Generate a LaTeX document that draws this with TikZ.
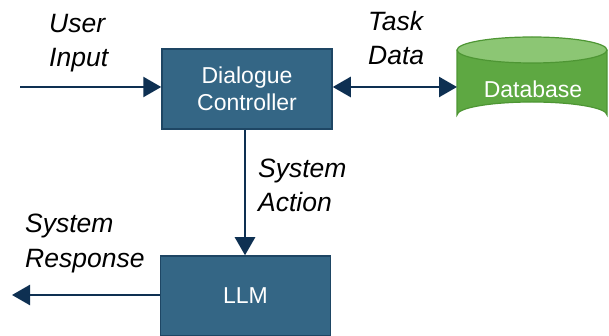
\documentclass[tikz,border=0pt]{standalone}
\usepackage{fontspec}
\setmainfont{Liberation Sans}
\usetikzlibrary{arrows.meta}
\definecolor{boxfill}{RGB}{52,102,133}
\definecolor{boxdraw}{RGB}{30,70,100}
\definecolor{arrowcol}{RGB}{14,48,82}
\definecolor{dbside}{RGB}{94,168,66}
\definecolor{dbtop}{RGB}{140,198,116}
\definecolor{dbdraw}{RGB}{78,150,52}
\tikzset{
  procbox/.style={draw=boxdraw, line width=1.5pt, fill=boxfill, text=white, minimum width=170pt, minimum height=80pt, inner sep=0pt, align=center, font=\fontsize{23}{27}\selectfont},
  lbl/.style={inner sep=0pt, align=left, anchor=base west, font=\fontsize{26.5}{34.5}\selectfont\itshape},
  flow/.style={draw=arrowcol, line width=2.5pt, -{Triangle[length=18pt,width=20pt]}},
  flow2/.style={draw=arrowcol, line width=2.5pt, {Triangle[length=18pt,width=20pt]}-{Triangle[length=18pt,width=20pt]}}
}
\begin{document}
\begin{tikzpicture}[x=1pt,y=-1pt]
\useasboundingbox (0,0) rectangle (609,336);
\node[procbox] (dc) at (247,89) {Dialogue\\Controller};
\node[procbox] (llm) at (245.5,296) {LLM};
% database cylinder
\fill[dbside] (457,50) -- (457,115) arc[start angle=180,end angle=360,x radius=75,y radius=13] -- (607,50) -- cycle;
\draw[dbdraw, line width=1.2pt, fill=dbtop] (532,50) ellipse[x radius=75,y radius=13];
\draw[dbdraw, line width=1.2pt] (457,50) -- (457,115) arc[start angle=180,end angle=360,x radius=75,y radius=13] -- (607,50);
\node[inner sep=0pt, text=white, font=\fontsize{23}{27}\selectfont] (db) at (533,89) {Database};
\coordinate (dbw) at (457,87);
\coordinate (uin) at (20,87);
\coordinate (sout) at (12,295);
\draw[flow] (uin) -- (dc.west |- uin);
\draw[flow2] (dc.east |- dbw) -- (dbw);
\draw[flow] (dc.south -| 245,0) -- (llm.north -| 245,0);
\draw[flow] (llm.west |- sout) -- (sout);
\node[lbl] (l1) at (49,67) {User\\Input};
\node[lbl] (l2) at (368,65) {Task\\Data};
\node[lbl] (l3) at (258,212) {System\\Action};
\node[lbl] (l4) at (25,267) {System\\Response};
\end{tikzpicture}
\end{document}
